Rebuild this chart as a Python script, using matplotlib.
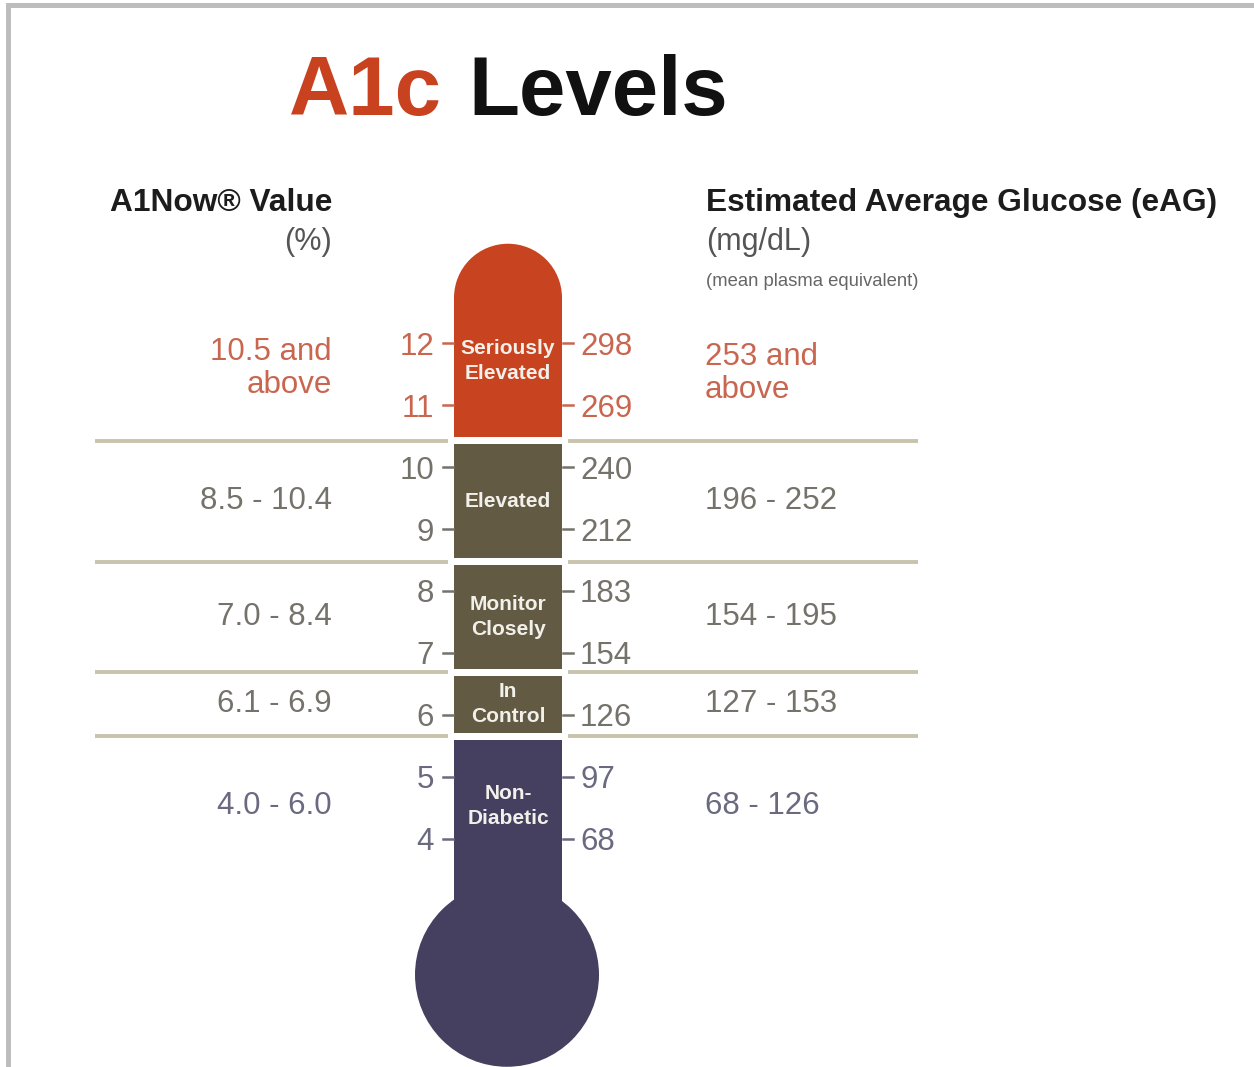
import matplotlib
matplotlib.use("Agg")
import matplotlib.pyplot as plt
from matplotlib.patches import Rectangle, Ellipse

plt.rcParams['font.family'] = ['Liberation Sans', 'DejaVu Sans']

# ---------------- data ----------------
a1c_ticks = [12, 11, 10, 9, 8, 7, 6, 5, 4]
eag_ticks = [298, 269, 240, 212, 183, 154, 126, 97, 68]
tick_row = [0, 0, 1, 1, 2, 2, 3, 4, 4]          # which band each tick belongs to
categories = ["Seriously\nElevated", "Elevated", "Monitor\nClosely", "In\nControl", "Non-\nDiabetic"]
a1c_ranges = ["10.5 and\nabove", "8.5 - 10.4", "7.0 - 8.4", "6.1 - 6.9", "4.0 - 6.0"]
eag_ranges = ["253 and\nabove", "196 - 252", "154 - 195", "127 - 153", "68 - 126"]
band_edges = [12.6, 10.42, 8.47, 6.69, 5.66, 3.4]   # band limits on the A1c scale (visual)

# ---------------- styles ----------------
W, H, DPI = 1254, 1067, 100
PX = 62.0                      # pixels per A1c unit
Y12 = 343                      # pixel row of A1c 12
col_fill = ["#c8431f", "#625a42", "#625a42", "#625a42", "#45405f"]
txt_col = ["#c9664f", "#74726a", "#74726a", "#74726a", "#6a6980"]
line_col = "#c9c3ab"
gap = 3.5 / PX

fig = plt.figure(figsize=(W / DPI, H / DPI), dpi=DPI)
fig.patch.set_facecolor("white")

# data axes: x in pixels, y on the A1c scale
ax = fig.add_axes([0, 0, 1, 1])
ax.set_xlim(0, W)
ax.set_ylim(12 - (H - Y12) / PX, 12 + Y12 / PX)
ax.axis("off")

# overlay axes for framing text in pixel coordinates
ov = fig.add_axes([0, 0, 1, 1], zorder=-1)
ov.set_xlim(0, W)
ov.set_ylim(H, 0)
ov.axis("off")

x0, x1 = 454, 562
xc = (x0 + x1) / 2
cw = x1 - x0

# thermometer segments
for i in range(5):
    top = band_edges[i] - gap
    bot = band_edges[i + 1] + gap
    if i == 0:
        top = 12.73
        ax.add_patch(Ellipse((xc, top), cw, cw / PX, color=col_fill[i], lw=0))
    if i == 4:
        bot = 3.0
        ax.add_patch(Ellipse((xc - 1, 1.81), 184, 184 / PX, color=col_fill[i], lw=0))
    ax.add_patch(Rectangle((x0, bot), cw, top - bot, color=col_fill[i], lw=0))

# separators
for e in band_edges[1:5]:
    ax.plot([95, 448], [e, e], color=line_col, lw=2.8, solid_capstyle="butt")
    ax.plot([568, 918], [e, e], color=line_col, lw=2.8, solid_capstyle="butt")

# ticks and labels
for a, g, r in zip(a1c_ticks, eag_ticks, tick_row):
    c = txt_col[r]
    ax.plot([443, 453], [a, a], color=c, lw=1.8)
    ax.plot([563, 573], [a, a], color=c, lw=1.8)
    ax.text(434, a, str(a), ha="right", va="center_baseline", fontsize=22.5, color=c)
    ax.text(580, a, str(g), ha="left", va="center_baseline", fontsize=22.5, color=c)

# row texts
for i in range(5):
    yc = (band_edges[i] + band_edges[i + 1]) / 2
    ax.text(332, yc + (0.08 if i == 0 else 0), a1c_ranges[i], ha="right", va="center",
            multialignment="right", fontsize=22.5, color=txt_col[i], linespacing=1.13)
    ax.text(705, yc, eag_ranges[i], ha="left", va="center",
            multialignment="left", fontsize=22.5, color=txt_col[i], linespacing=1.13)
    ly = yc + (0.2 if i == 0 else 0)
    ax.text(xc, ly, categories[i], ha="center", va="center", fontsize=15, fontweight="bold",
            color="#f2f0ea", linespacing=1.4)

# title
ov.text(289, 115, "A1c", ha="left", va="baseline", fontsize=60, fontweight="bold", color="#c8421f")
ov.text(468, 115, "Levels", ha="left", va="baseline", fontsize=60, fontweight="bold", color="#111111")

# headers
ov.text(332, 211, "A1Now® Value", ha="right", va="baseline", fontsize=22.8, fontweight="bold", color="#1c1c1c")
ov.text(332, 250, "(%)", ha="right", va="baseline", fontsize=22, color="#555555")
ov.text(706, 211, "Estimated Average Glucose (eAG)", ha="left", va="baseline", fontsize=22.8,
        fontweight="bold", color="#1c1c1c")
ov.text(706, 250, "(mg/dL)", ha="left", va="baseline", fontsize=22, color="#555555")
ov.text(706, 286, "(mean plasma equivalent)", ha="left", va="baseline", fontsize=13.3, color="#666666")

# frame
ov.add_patch(Rectangle((6, 3), W - 6, 4.5, color="#bdbdbd", lw=0))
ov.add_patch(Rectangle((6, 3), 5, H - 3, color="#bdbdbd", lw=0))

fig.savefig("out.png", dpi=DPI, facecolor="white")
